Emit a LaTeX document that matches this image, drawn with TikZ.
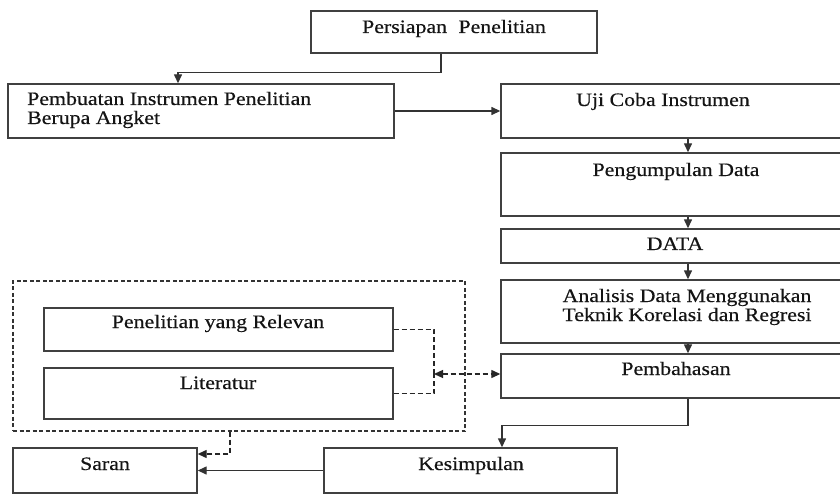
\documentclass[tikz,border=0pt]{standalone}
\usepackage{fontspec}
\setmainfont{Liberation Serif}[FakeStretch=1.15,FakeBold=0.4]
\usetikzlibrary{arrows.meta,fit,calc}
\begin{document}
\begin{tikzpicture}[x=1pt,y=-1pt,
  box/.style={draw=black!75,line width=1.4pt,inner sep=0pt,rectangle},
  lbl/.style={anchor=base,inner sep=0pt,font=\fontsize{19}{20}\selectfont,text=black!92},
  tip/.style={-{Triangle[length=9pt,width=8pt]}},
  arr/.style={draw=black!80,line width=1.4pt,tip},
  dsh/.style={draw=black!85,line width=1.3pt,dash pattern=on 5pt off 3pt},
  grp/.style={draw=black!80,line width=1.3pt,dash pattern=on 4pt off 2.5pt,inner sep=0pt}]
\clip (0,0) rectangle (840,494);
\fill[white] (0,0) rectangle (840,494);
% boxes
\node[box,fit={(311,11) (597,53)}] (persiapan) {};
\node[box,fit={(8,84) (394,138)}] (pembuatan) {};
\node[box,fit={(501,84) (875,138)}] (uji) {};
\node[box,fit={(501,153) (875,216)}] (pengumpulan) {};
\node[box,fit={(501,229) (875,263)}] (data) {};
\node[box,fit={(501,280) (875,343)}] (analisis) {};
\node[box,fit={(501,354) (875,398)}] (pembahasan) {};
\node[grp,fit={(13,281) (465,431)}] (group) {};
\node[box,fit={(44,308) (393,351)}] (relevan) {};
\node[box,fit={(44,368) (393,419)}] (literatur) {};
\node[box,fit={(13,448) (197,493)}] (saran) {};
\node[box,fit={(324,448) (617,493)}] (kesimpulan) {};
% labels
\node[lbl] (tpersiapan) at (454,33) {Persiapan\hspace{0.6em}Penelitian};
\node[lbl,anchor=base west] (tpembuatan1) at (27,105) {Pembuatan Instrumen Penelitian};
\node[lbl,anchor=base west] (tpembuatan2) at (27,124) {Berupa Angket};
\node[lbl] (tuji) at (663,106) {Uji Coba Instrumen};
\node[lbl] (tpengumpulan) at (676,176) {Pengumpulan Data};
\node[lbl] (tdata) at (675,250) {DATA};
\node[lbl] (tanalisis1) at (687,302) {Analisis Data Menggunakan};
\node[lbl] (tanalisis2) at (687,321) {Teknik Korelasi dan Regresi};
\node[lbl] (tpembahasan) at (676,375) {Pembahasan};
\node[lbl] (trelevan) at (218,328) {Penelitian yang Relevan};
\node[lbl] (tliteratur) at (218,389) {Literatur};
\node[lbl] (tsaran) at (105,470) {Saran};
\node[lbl] (tkesimpulan) at (471,470) {Kesimpulan};
% connectors
\draw[arr] ([xshift=-13pt]persiapan.south) -- ++(0,19) -| ([xshift=-23pt]pembuatan.north);
\draw[arr] (pembuatan.east) -- (uji.west);
\draw[arr] (uji.south) -- (pengumpulan.north);
\draw[arr] (pengumpulan.south) -- (data.north);
\draw[arr] (data.south) -- (analisis.north);
\draw[arr] (analisis.south) -- (pembahasan.north);
\draw[arr] (pembahasan.south) -- ++(0,27) -| ([xshift=31.5pt]kesimpulan.north);
\draw[arr] (kesimpulan.west) -- (saran.east);
\coordinate (j) at (434,374);
\draw[dsh] (relevan.east) -| (j);
\draw[dsh] (literatur.east) -| (j);
\draw[dsh,{Triangle[length=9pt,width=8pt]}-{Triangle[length=9pt,width=8pt]}] (j) -- (j -| pembahasan.west);
\draw[dsh,tip] ([xshift=-9pt]group.south) |- ([yshift=16.5pt]saran.east);
\end{tikzpicture}
\end{document}
